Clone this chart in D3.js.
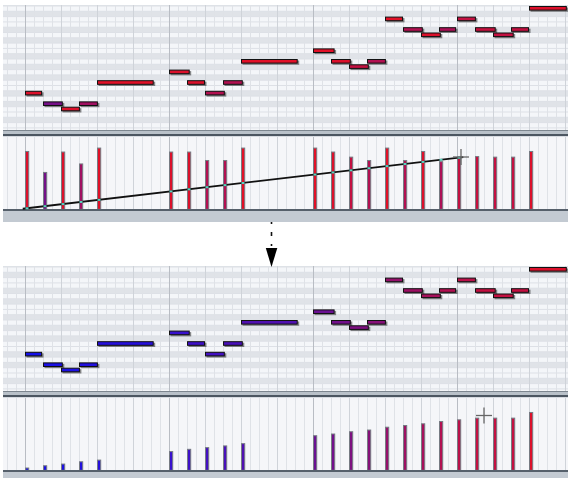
<!DOCTYPE html>
<html>
<head>
<meta charset="utf-8">
<script src="https://cdn.jsdelivr.net/npm/d3@7"></script>
<style>
  html, body { margin: 0; padding: 0; background: #fff; }
  svg { display: block; }
</style>
</head>
<body>
<div id="chart-area"></div>
<script>
// note data (steps are 16th notes, rows are semitones above lowest note)
const noteStart  = [0, 2, 4, 6, 8, 16, 18, 20, 22, 24, 32, 34, 36, 38, 40, 42, 44, 46, 48, 50, 52, 54, 56];
const noteLength = [1.9, 2.2, 2.1, 2.1, 6.3, 2.3, 2.0, 2.2, 2.2, 6.3, 2.4, 2.2, 2.2, 2.1, 2.0, 2.2, 2.2, 1.9, 2.1, 2.3, 2.3, 2.0, 4.2];
const notePitch  = [3, 1, 0, 1, 5, 7, 5, 3, 5, 9, 11, 9, 8, 9, 17, 15, 14, 15, 17, 15, 14, 15, 19];
const velBefore  = [102, 65, 101, 80, 108, 101, 101, 86, 86, 108, 108, 101, 92, 86, 108, 86, 102, 84, 92, 93, 92, 92, 102];
const velAfter   = [4, 8, 11, 15, 18, 33, 37, 40, 43, 47, 61, 64, 68, 71, 76, 79, 82, 86, 89, 92, 92, 92, 102];
// velocity ramp drawn with the line tool
const rampStep = [-0.25, 48.7];
const rampVel  = [1, 92];

const width = 568, height = 478;
const svg = d3.select('#chart-area').append('svg')
    .attr('width', width).attr('height', height);

const x = d3.scaleLinear().domain([0, 64]).range([25, 25 + 64 * 9]);
const rowY = d3.scaleLinear().domain([0, 19]).range([106.7, 6]);
const rowH = 5.3;
const velColor = d3.scaleLinear().domain([0, 35, 62, 84, 100, 127])
    .range(['#1010ec', '#3a10cc', '#6c1090', '#ac1056', '#da102c', '#f0101a']);

const gridLeft = 3, gridRight = 568;

function drawPanel(offsetY, vels, showRamp, cursor) {
    const g = svg.append('g').attr('transform', `translate(0, ${offsetY})`);
    const velY = d3.scaleLinear().domain([0, 127]).range([209.3, 137.3]);

    // ---- note grid ----
    g.append('rect').attr('x', gridLeft).attr('y', 5).attr('width', gridRight - gridLeft)
        .attr('height', 125).attr('fill', '#f4f6f9');
    const rows = d3.range(-5, 21);
    const blackRows = [-2, 1, 3, 6, 8, 10, 13, 15, 18, 20];
    g.selectAll('.row').data(rows).enter().append('rect')
        .attr('x', gridLeft).attr('width', gridRight - gridLeft)
        .attr('y', d => Math.max(5, rowY(d)))
        .attr('height', d => Math.max(0, Math.min(130, rowY(d) + rowH) - Math.max(5, rowY(d))))
        .attr('fill', d => blackRows.includes(d) ? '#e0e3e8' : 'none');
    g.selectAll('.rowline').data(rows).enter().append('line')
        .attr('x1', gridLeft).attr('x2', gridRight)
        .attr('y1', d => rowY(d) + rowH).attr('y2', d => rowY(d) + rowH)
        .attr('stroke', '#dde0e6').attr('stroke-width', 1)
        .attr('display', d => (rowY(d) + rowH > 5 && rowY(d) + rowH < 130) ? null : 'none');

    const steps = d3.range(-2, 62);
    const lineColor = s => s % 16 === 0 ? '#b9bdc4' : (s % 4 === 0 ? '#cfd3d9' : '#dfe2e7');
    g.selectAll('.vline').data(steps).enter().append('line')
        .attr('x1', d => x(d) + 0.5).attr('x2', d => x(d) + 0.5)
        .attr('y1', 5).attr('y2', 130)
        .attr('stroke', lineColor).attr('stroke-width', 1);

    // ---- notes ----
    const notes = noteStart.map((s, i) => ({ s, len: noteLength[i], p: notePitch[i], v: vels[i] }));
    g.selectAll('.shadow').data(notes).enter().append('rect')
        .attr('x', d => x(d.s) + 1.5).attr('y', d => rowY(d.p) + 1.5)
        .attr('width', d => x(d.s + d.len) - x(d.s)).attr('height', 4.3)
        .attr('fill', '#2a2a2a').attr('opacity', 0.55);
    g.selectAll('.note').data(notes).enter().append('rect')
        .attr('x', d => x(d.s) + 0.5).attr('y', d => rowY(d.p) + 0.5)
        .attr('width', d => x(d.s + d.len) - x(d.s) - 1).attr('height', 3.6)
        .attr('fill', d => velColor(d.v)).attr('stroke', '#111').attr('stroke-width', 1);

    // ---- separator ----
    g.append('rect').attr('x', gridLeft).attr('y', 130).attr('width', gridRight - gridLeft)
        .attr('height', 7).attr('fill', '#b9c1c9');
    g.append('line').attr('x1', gridLeft).attr('x2', gridRight).attr('y1', 130.5).attr('y2', 130.5)
        .attr('stroke', '#7d868f');
    g.append('line').attr('x1', gridLeft).attr('x2', gridRight).attr('y1', 135).attr('y2', 135)
        .attr('stroke', '#4c5661').attr('stroke-width', 2);

    // ---- velocity lane ----
    g.append('rect').attr('x', gridLeft).attr('y', 136.5).attr('width', gridRight - gridLeft)
        .attr('height', 72.5).attr('fill', '#f5f6f9');
    g.selectAll('.lvline').data(steps).enter().append('line')
        .attr('x1', d => x(d) + 0.5).attr('x2', d => x(d) + 0.5)
        .attr('y1', 137).attr('y2', 209)
        .attr('stroke', lineColor).attr('stroke-width', 1);

    g.selectAll('.vel').data(notes).enter().append('rect')
        .attr('x', d => x(d.s) + 0.5).attr('y', d => velY(d.v))
        .attr('width', 3.2).attr('height', d => velY(0) - velY(d.v))
        .attr('fill', d => velColor(d.v)).attr('stroke', '#767b83').attr('stroke-width', 1);

    // bottom bar
    g.append('rect').attr('x', gridLeft).attr('y', 209).attr('width', gridRight - gridLeft)
        .attr('height', 13).attr('fill', '#c3cad2');
    g.append('line').attr('x1', gridLeft).attr('x2', gridRight).attr('y1', 210).attr('y2', 210)
        .attr('stroke', '#56606b').attr('stroke-width', 2);

    if (showRamp) {
        const line = d3.line().x(d => x(d[0])).y(d => velY(d[1]));
        const pts = rampStep.map((s, i) => [s, rampVel[i]]);
        g.append('path').attr('d', line(pts)).attr('fill', 'none')
            .attr('stroke', '#111').attr('stroke-width', 1.8);
        const rampAt = s => rampVel[0] + (rampVel[1] - rampVel[0]) * (s - rampStep[0]) / (rampStep[1] - rampStep[0]);
        g.selectAll('.hit').data(noteStart.filter(s => s <= rampStep[1])).enter().append('rect')
            .attr('x', d => x(d) + 0.5).attr('y', d => velY(rampAt(d + 0.17)) - 1)
            .attr('width', 3).attr('height', 2).attr('fill', '#5fd0c0');
    }

    // cursor crosshair
    const cg = g.append('g').attr('transform', `translate(${cursor[0]}, ${cursor[1]})`);
    cg.append('line').attr('x1', -8).attr('x2', 8).attr('y1', 0).attr('y2', 0)
        .attr('stroke', '#666').attr('stroke-width', 1.3);
    cg.append('line').attr('x1', 0).attr('x2', 0).attr('y1', -8).attr('y2', 8)
        .attr('stroke', '#666').attr('stroke-width', 1.3);
}

drawPanel(0, velBefore, true, [461, 157]);
drawPanel(261, velAfter, false, [484, 154.5]);

// arrow between the two states
svg.append('line').attr('x1', 271.5).attr('x2', 271.5).attr('y1', 222).attr('y2', 248)
    .attr('stroke', '#111').attr('stroke-width', 1.6).attr('stroke-dasharray', '2,8,4,8');
svg.append('path').attr('d', 'M265.8,248 L277.3,248 L271.5,267 Z').attr('fill', '#000');
</script>
</body>
</html>
